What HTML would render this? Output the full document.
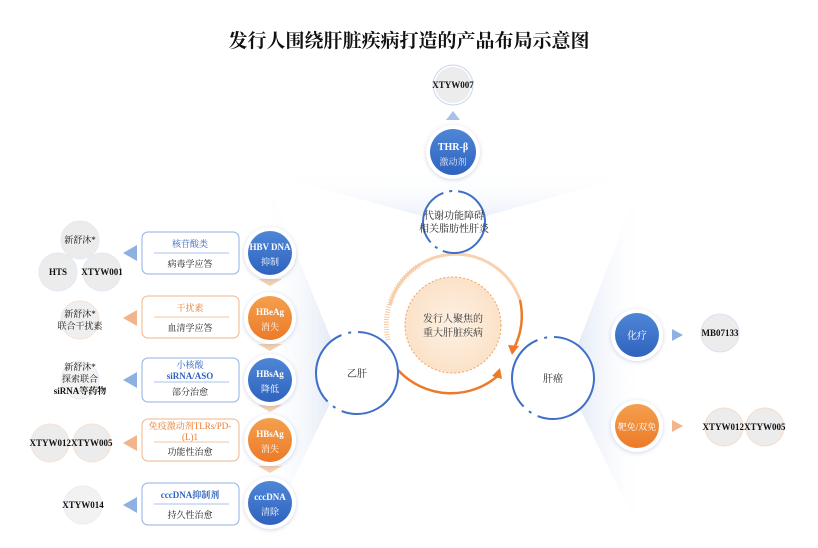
<!DOCTYPE html>
<html><head><meta charset="utf-8"><style>
body{margin:0;background:#fff;}
svg text{font-family:"Liberation Serif","Noto Serif CJK SC","Noto Sans CJK SC",serif;}
</style></head><body>
<svg width="818" height="543" viewBox="0 0 818 543" xmlns="http://www.w3.org/2000/svg">
<defs>
<linearGradient id="fl" x1="1" y1="0" x2="0" y2="0"><stop offset="0" stop-color="#c9d6ee" stop-opacity="0.9"/><stop offset="1" stop-color="#fff" stop-opacity="0"/></linearGradient>
<linearGradient id="fr" x1="0" y1="0" x2="1" y2="0"><stop offset="0" stop-color="#c9d6ee" stop-opacity="0.9"/><stop offset="1" stop-color="#fff" stop-opacity="0"/></linearGradient>
<linearGradient id="ft" x1="0" y1="1" x2="0" y2="0"><stop offset="0" stop-color="#c9d6ee" stop-opacity="0.8"/><stop offset="1" stop-color="#fff" stop-opacity="0"/></linearGradient>
<linearGradient id="bl" x1="0" y1="0" x2="0" y2="1"><stop offset="0" stop-color="#4f86d6"/><stop offset="1" stop-color="#2f63bf"/></linearGradient>
<linearGradient id="or" x1="0" y1="0" x2="0" y2="1"><stop offset="0" stop-color="#f4a04e"/><stop offset="1" stop-color="#ec7a28"/></linearGradient>
<radialGradient id="cc"><stop offset="0" stop-color="#fdf1e4"/><stop offset="1" stop-color="#fbe2c8"/></radialGradient>
<filter id="sh" x="-30%" y="-30%" width="160%" height="160%"><feDropShadow dx="0" dy="1" stdDeviation="2" flood-color="#8899bb" flood-opacity="0.4"/></filter>
</defs>
<text x="409" y="47" text-anchor="middle" font-size="19" font-weight="bold" fill="#111">发行人围绕肝脏疾病打造的产品布局示意图</text>

<polygon points="345,373 262,170 262,543" fill="url(#fl)" opacity="0.8"/>
<polygon points="565,378 645,170 645,543" fill="url(#fr)" opacity="0.8"/>
<polygon points="454,225 255,170 650,170" fill="url(#ft)" opacity="0.6"/>

<path d="M390,305 A68,68 0 0 1 520,300" fill="none" stroke="#f8d2b0" stroke-width="3"/>
<path d="M520,300 A70,70 0 0 1 514,348" fill="none" stroke="#ec7a28" stroke-width="2.5"/>
<polygon points="508,345 519,346 512,355" fill="#ec7a28"/>
<path d="M398,370 A72,72 0 0 0 500,374" fill="none" stroke="#ec7a28" stroke-width="2.5"/>
<polygon points="500,368 502,379 492,376" fill="#ec7a28"/>
<path d="M388,340 A70,70 0 0 1 420,265" fill="none" stroke="#f6c9a3" stroke-width="5" stroke-dasharray="1,1.5"/>
<circle cx="453" cy="325" r="48" fill="url(#cc)" stroke="#f0a060" stroke-width="1" stroke-dasharray="2,2"/>
<text x="453" y="322" text-anchor="middle" font-size="10" fill="#333">发行人聚焦的</text>
<text x="453" y="336" text-anchor="middle" font-size="10" fill="#333">重大肝脏疾病</text>

<g fill="#fff" stroke="#3f6fc6" stroke-width="2">
<circle cx="454" cy="222" r="31" stroke-dasharray="60,6,3,6"/>
<circle cx="357" cy="373" r="41" stroke-dasharray="80,7,3,7"/>
<circle cx="553" cy="378" r="41" stroke-dasharray="80,7,3,7"/>
</g>
<text x="454" y="219" text-anchor="middle" font-size="10" fill="#222">代谢功能障碍</text>
<text x="454" y="232" text-anchor="middle" font-size="10" fill="#222">相关脂肪性肝炎</text>
<text x="357" y="377" text-anchor="middle" font-size="10" fill="#222">乙肝</text>
<text x="553" y="382" text-anchor="middle" font-size="10" fill="#222">肝癌</text>

<circle cx="453" cy="152" r="27" fill="#fff" filter="url(#sh)"/>
<circle cx="453" cy="152" r="23" fill="url(#bl)"/>
<text x="453" y="150" text-anchor="middle" font-size="10" font-weight="bold" fill="#fff">THR-β</text>
<text x="453" y="165" text-anchor="middle" font-size="9" fill="#dfe8fa">激动剂</text>
<polygon points="446,120 460,120 453,111" fill="#a9c0e8"/>
<circle cx="453" cy="85" r="20" fill="#fff" stroke="#c8d6f0"/>
<circle cx="453" cy="85" r="18" fill="#ececec"/>
<text x="453" y="88" text-anchor="middle" font-size="9" font-weight="bold" fill="#111">XTYW007</text>

<circle cx="637" cy="335" r="26" fill="#fff" filter="url(#sh)"/>
<circle cx="637" cy="335" r="22" fill="url(#bl)"/>
<text x="637" y="339" text-anchor="middle" font-size="10" fill="#fff">化疗</text>
<polygon points="672,329 672,341 683,335" fill="#8fb0e2"/>
<circle cx="720" cy="333" r="19" fill="#ececec" stroke="#d8e2f4"/>
<text x="720" y="336" text-anchor="middle" font-size="9" font-weight="bold" fill="#111">MB07133</text>
<circle cx="637" cy="426" r="26" fill="#fff" filter="url(#sh)"/>
<circle cx="637" cy="426" r="22" fill="url(#or)"/>
<text x="637" y="430" text-anchor="middle" font-size="9" fill="#fff">靶免/双免</text>
<polygon points="672,420 672,432 683,426" fill="#f2b48a"/>
<circle cx="724" cy="427" r="19" fill="#ececec" stroke="#f6dcc8"/>
<circle cx="765" cy="427" r="19" fill="#ececec" stroke="#f6dcc8"/>
<text x="744" y="430" text-anchor="middle" font-size="9" font-weight="bold" fill="#111">XTYW012XTYW005</text>

<g font-size="9">
<g fill="#f6cfae">
<polygon points="258,279 282,279 270,286"/><polygon points="258,344 282,344 270,351"/><polygon points="258,405 282,405 270,412"/><polygon points="258,466 282,466 270,473"/>
</g>
<rect x="142" y="232" width="97" height="42" rx="6" fill="#fff" stroke="#8fb0e2"/>
<line x1="154" y1="253" x2="229" y2="253" stroke="#a9c0e8"/>
<text x="190" y="247" text-anchor="middle" fill="#2f63bf">核苷酸类</text>
<text x="190" y="267" text-anchor="middle" fill="#222">病毒学应答</text>
<circle cx="270" cy="253" r="26" fill="#fff" filter="url(#sh)"/><circle cx="270" cy="253" r="22" fill="url(#bl)"/>
<text x="270" y="250" text-anchor="middle" font-weight="bold" fill="#fff">HBV DNA</text><text x="270" y="265" text-anchor="middle" fill="#fff">抑制</text>
<polygon points="123,253 137,245 137,261" fill="#8fb0e2"/>
<circle cx="80" cy="240" r="19" fill="#ececec" stroke="#e0e8f6"/><circle cx="58" cy="272" r="19" fill="#ececec" stroke="#e0e8f6"/><circle cx="102" cy="272" r="19" fill="#ececec" stroke="#e0e8f6"/>
<text x="80" y="243" text-anchor="middle" fill="#111">新舒沐*</text>
<text x="58" y="275" text-anchor="middle" font-weight="bold" fill="#111">HTS</text>
<text x="102" y="275" text-anchor="middle" font-weight="bold" fill="#111">XTYW001</text>

<rect x="142" y="296" width="97" height="42" rx="6" fill="#fff" stroke="#f2b48a"/>
<line x1="154" y1="317" x2="229" y2="317" stroke="#f2c6a6"/>
<text x="190" y="311" text-anchor="middle" fill="#ec7a28">干扰素</text>
<text x="190" y="331" text-anchor="middle" fill="#222">血清学应答</text>
<circle cx="270" cy="318" r="26" fill="#fff" filter="url(#sh)"/><circle cx="270" cy="318" r="22" fill="url(#or)"/>
<text x="270" y="315" text-anchor="middle" font-weight="bold" fill="#fff">HBeAg</text><text x="270" y="330" text-anchor="middle" fill="#fff">消失</text>
<polygon points="123,318 137,310 137,326" fill="#f2b48a"/>
<circle cx="80" cy="320" r="19" fill="#efefef" stroke="#f6e2d4"/>
<text x="80" y="317" text-anchor="middle" fill="#111">新舒沐*</text><text x="80" y="329" text-anchor="middle" fill="#111">联合干扰素</text>

<rect x="142" y="358" width="97" height="44" rx="6" fill="#fff" stroke="#8fb0e2"/>
<line x1="154" y1="382" x2="229" y2="382" stroke="#a9c0e8"/>
<text x="190" y="368" text-anchor="middle" fill="#2f63bf">小核酸</text>
<text x="190" y="379" text-anchor="middle" font-weight="bold" fill="#2f63bf">siRNA/ASO</text>
<text x="190" y="395" text-anchor="middle" fill="#222">部分治愈</text>
<circle cx="270" cy="380" r="26" fill="#fff" filter="url(#sh)"/><circle cx="270" cy="380" r="22" fill="url(#bl)"/>
<text x="270" y="377" text-anchor="middle" font-weight="bold" fill="#fff">HBsAg</text><text x="270" y="392" text-anchor="middle" fill="#fff">降低</text>
<polygon points="123,380 137,372 137,388" fill="#8fb0e2"/>
<circle cx="80" cy="380" r="19" fill="#f2f2f2" stroke="#e6ecf8"/>
<text x="80" y="370" text-anchor="middle" fill="#111">新舒沐*</text><text x="80" y="382" text-anchor="middle" fill="#111">探索联合</text><text x="80" y="394" text-anchor="middle" font-weight="bold" fill="#111">siRNA等药物</text>

<rect x="142" y="419" width="97" height="42" rx="6" fill="#fff" stroke="#f2b48a"/>
<line x1="154" y1="442" x2="229" y2="442" stroke="#f2c6a6"/>
<text x="190" y="429" text-anchor="middle" fill="#ec7a28">免疫激动剂TLRs/PD-</text>
<text x="190" y="440" text-anchor="middle" fill="#ec7a28">(L)1</text>
<text x="190" y="455" text-anchor="middle" fill="#222">功能性治愈</text>
<circle cx="270" cy="440" r="26" fill="#fff" filter="url(#sh)"/><circle cx="270" cy="440" r="22" fill="url(#or)"/>
<text x="270" y="437" text-anchor="middle" font-weight="bold" fill="#fff">HBsAg</text><text x="270" y="452" text-anchor="middle" fill="#fff">消失</text>
<polygon points="123,443 137,435 137,451" fill="#f2b48a"/>
<circle cx="50" cy="443" r="19" fill="#ececec" stroke="#f6e2d4"/><circle cx="92" cy="443" r="19" fill="#ececec" stroke="#f6e2d4"/>
<text x="71" y="446" text-anchor="middle" font-weight="bold" fill="#111">XTYW012XTYW005</text>

<rect x="142" y="483" width="97" height="42" rx="6" fill="#fff" stroke="#8fb0e2"/>
<line x1="154" y1="504" x2="229" y2="504" stroke="#a9c0e8"/>
<text x="190" y="498" text-anchor="middle" font-weight="bold" fill="#2f63bf">cccDNA抑制剂</text>
<text x="190" y="518" text-anchor="middle" fill="#222">持久性治愈</text>
<circle cx="270" cy="503" r="26" fill="#fff" filter="url(#sh)"/><circle cx="270" cy="503" r="22" fill="url(#bl)"/>
<text x="270" y="500" text-anchor="middle" font-weight="bold" fill="#fff">cccDNA</text><text x="270" y="515" text-anchor="middle" fill="#fff">清除</text>
<polygon points="123,505 137,497 137,513" fill="#8fb0e2"/>
<circle cx="83" cy="505" r="19" fill="#f2f2f2" stroke="#e6ecf8"/>
<text x="83" y="508" text-anchor="middle" font-weight="bold" fill="#111">XTYW014</text>
</g>
</svg>
</body></html>
